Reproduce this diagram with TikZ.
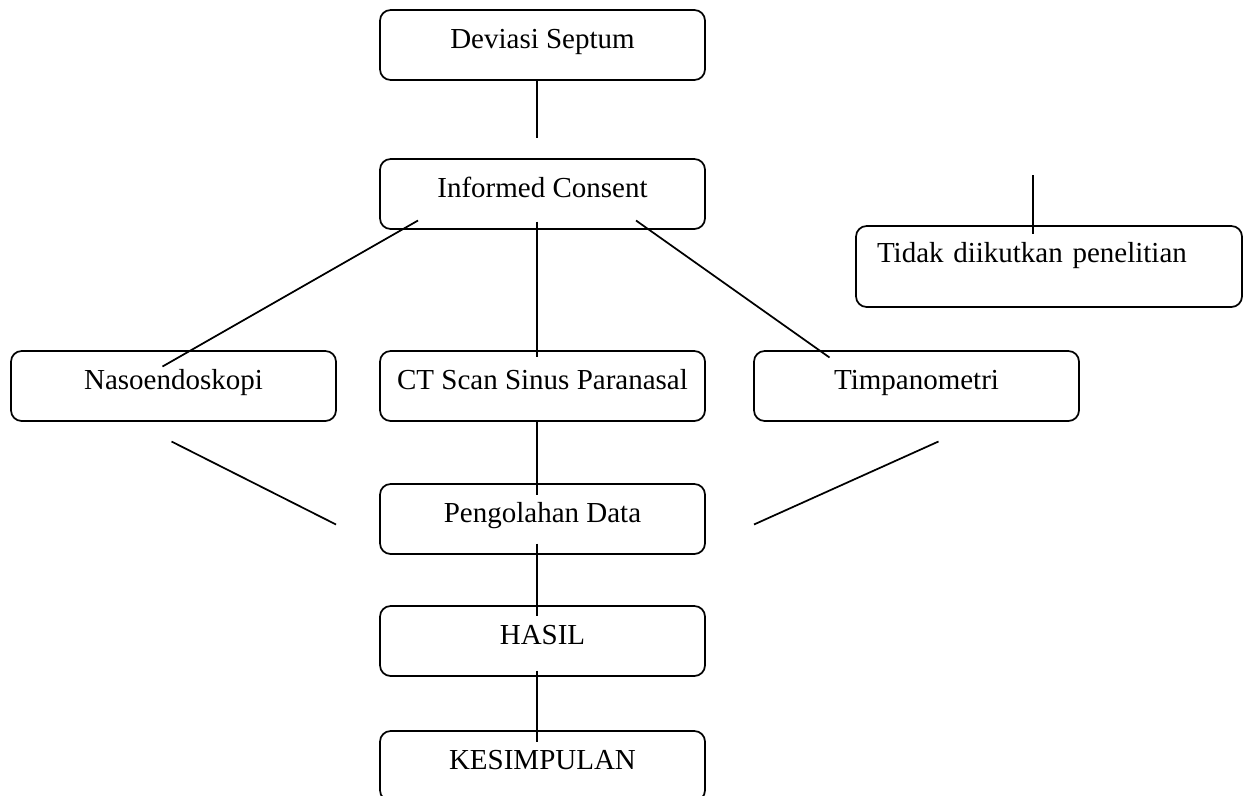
\documentclass[tikz,border=0pt]{standalone}
\usepackage{fontspec}
\setmainfont{Liberation Serif}
\usetikzlibrary{positioning}
\tikzset{
  stage/.style={
    draw=black, line width=1.3pt, rounded corners=8pt,
    minimum width=243.75pt, inner xsep=0pt, inner ysep=0pt, outer sep=0pt,
    text height=28.5pt, text depth=24pt, align=center,
    font=\fontsize{21.75}{26}\selectfont
  },
  side/.style={
    stage, text width=258pt, inner xsep=15.75pt, align=left,
    text height=27pt, text depth=33.75pt
  },
  link/.style={draw=black, line width=1.3pt},
  every picture/.append style={line join=round}
}
\begin{document}
\begin{tikzpicture}[x=0.75pt, y=-0.75pt, node distance=59.25pt and 33pt]
  \useasboundingbox (0,0) rectangle (1243,796);
  \node[stage] (dev) at (542.5,45) {Deviasi Septum};
  \node[stage, below=of dev] (inf) {Informed Consent};
  \node[side] (tdk) at (1049,266.5) {Tidak diikutkan penelitian};
  \node[stage, below=91.5pt of inf] (ct) {CT Scan Sinus Paranasal};
  \node[stage, left=33pt of ct] (naso) {Nasoendoskopi};
  \node[stage, right=36.75pt of ct] (tim) {Timpanometri};
  \node[stage, below=47.25pt of ct] (olah) {Pengolahan Data};
  \node[stage, below=39pt of olah] (hasil) {HASIL};
  \node[stage, below=41.25pt of hasil] (kes) {KESIMPULAN};
  % free ends
  \coordinate (devend) at (537,138);
  \coordinate (tdktop) at (1033,175);
  \draw[link] ([shift={(-5.5,34)}]dev.center) -- (devend);
  \draw[link] (tdktop) -- ([shift={(-16,-32.5)}]tdk.center);
  \draw[link] ([shift={(-124.5,26.5)}]inf.center) -- ([shift={(-11,-19.5)}]naso.center);
  \draw[link] ([shift={(-5.5,27.5)}]inf.center) -- ([shift={(-5.5,-29)}]ct.center);
  \draw[link] ([shift={(93.5,26.5)}]inf.center) -- ([shift={(-87,-28.5)}]tim.center);
  \draw[link] ([shift={(-2,55.5)}]naso.center) -- ([shift={(-206.5,5.5)}]olah.center);
  \draw[link] ([shift={(-5.5,35)}]ct.center) -- ([shift={(-5.5,-24.5)}]olah.center);
  \draw[link] ([shift={(22,55.5)}]tim.center) -- ([shift={(211.5,5.5)}]olah.center);
  \draw[link] ([shift={(-5.5,24.5)}]olah.center) -- ([shift={(-5.5,-25.5)}]hasil.center);
  \draw[link] ([shift={(-5.5,29.5)}]hasil.center) -- ([shift={(-5.5,-24)}]kes.center);
\end{tikzpicture}
\end{document}
